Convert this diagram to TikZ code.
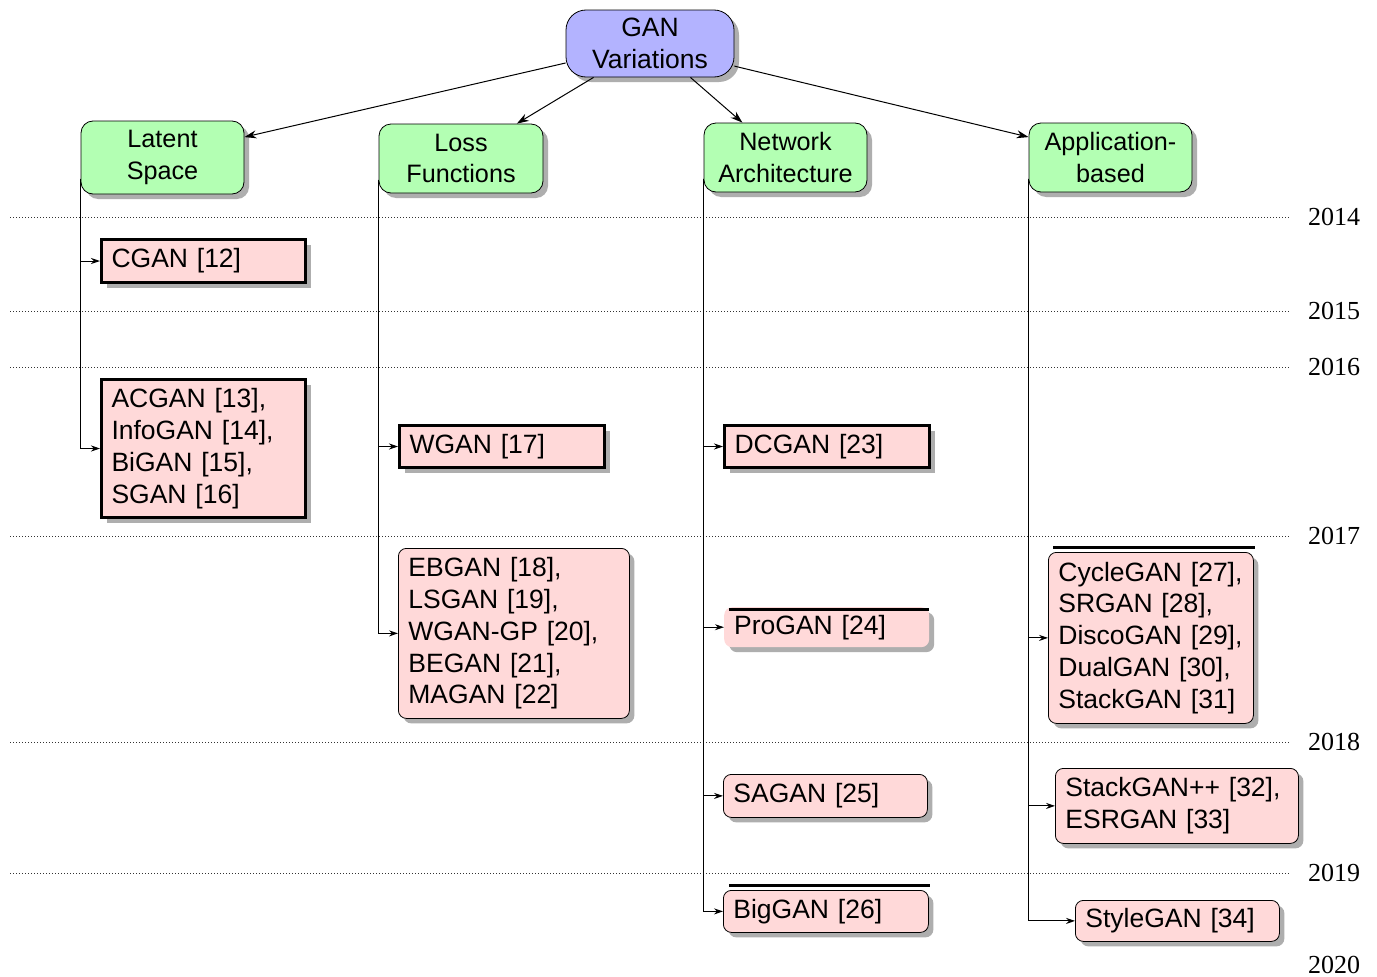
\documentclass[tikz,border=0pt]{standalone}
\usepackage{fontspec}
\setmainfont{Liberation Sans}
\newfontfamily\yearfont{Liberation Serif}
\usetikzlibrary{arrows.meta,shadows,calc}
\definecolor{ganblue}{RGB}{179,179,255}
\definecolor{catgreen}{RGB}{179,255,179}
\definecolor{leafpink}{RGB}{255,217,217}
\tikzset{
  base/.style={font=\fontsize{26.5}{31.8}\selectfont},
  shad/.style={drop shadow={shadow xshift=5pt,shadow yshift=-5pt,fill=black!35,opacity=0.9}},
  rootbox/.style={base,draw,line width=0.8pt,rounded corners=20pt,fill=ganblue,align=center,shad,inner sep=0pt},
  catbox/.style={font=\fontsize{25.2}{31.8}\selectfont,draw,line width=0.8pt,rounded corners=12pt,fill=catgreen,align=center,shad,inner sep=0pt},
  leaf/.style={base,anchor=north west,fill=leafpink,align=left,inner xsep=10pt,inner ysep=3pt,shad},
  boldleaf/.style={leaf,draw,line width=3pt},
  roundleaf/.style={leaf,draw,line width=0.8pt,rounded corners=8pt},
  plainleaf/.style={leaf,rounded corners=8pt},
  topconn/.style={line width=1pt,-{Stealth[length=12pt,width=8pt]}},
  treeconn/.style={line width=1pt,-{Stealth[length=9pt,width=6pt]}},
  yearline/.style={line width=0.8pt,black!80,dash pattern=on 1pt off 2pt},
  yearlabel/.style={font=\yearfont\fontsize{26}{30}\selectfont,inner sep=0pt},
  barline/.style={line width=3pt},
}
\begin{document}
\begin{tikzpicture}[x=1pt,y=-1pt]
\path[fill=white,use as bounding box] (0,0) rectangle (1377,977);

% year lines
\foreach \yy/\lab in {217/2014,311/2015,367/2016,536/2017,742/2018,873/2019}{
  \draw[yearline] (10,\yy) -- (1290,\yy);
  \node[yearlabel] (y\lab) at (1334,\yy) {\lab};
}
\node[yearlabel] (y2020) at (1334,965) {2020};

% root and categories
\node[rootbox,minimum width=168pt,minimum height=67pt] (gan) at (650,43.5) {GAN\\Variations};
\node[catbox,minimum width=163pt,minimum height=73pt] (lat) at (162.5,157.5) {Latent\\Space};
\node[catbox,minimum width=164pt,minimum height=69pt] (loss) at (461,158.5) {Loss\\Functions};
\node[catbox,minimum width=163pt,minimum height=69pt] (net) at (785.5,157.5) {Network\\Architecture};
\node[catbox,minimum width=163pt,minimum height=69pt] (app) at (1110.5,157.5) {Application-\\based};

\draw[topconn] (gan.193) -- (lat.14);
\draw[topconn] (gan.211) -- (loss.32);
\draw[topconn] (gan.320) -- (net.141);
\draw[topconn] (gan.345) -- (app.166);

% leaves
\node[boldleaf,text width=184pt,minimum height=43pt] (cgan) at (100,238) {CGAN [12]};
\node[boldleaf,text width=184pt,minimum height=138pt] (acgan) at (100,378) {ACGAN [13],\\InfoGAN [14],\\BiGAN [15],\\SGAN [16]};
\node[boldleaf,text width=185pt,minimum height=42pt] (wgan) at (398,424) {WGAN [17]};
\node[roundleaf,text width=211pt,minimum height=170pt] (ebgan) at (398,548) {EBGAN [18],\\LSGAN [19],\\WGAN-GP [20],\\BEGAN [21],\\MAGAN [22]};
\node[boldleaf,text width=185pt,minimum height=42pt] (dcgan) at (723,424) {DCGAN [23]};
\node[plainleaf,text width=185pt,minimum height=40pt] (progan) at (724,607) {ProGAN [24]};
\node[roundleaf,text width=184pt,minimum height=43pt] (sagan) at (723,774) {SAGAN [25]};
\node[roundleaf,text width=185pt,minimum height=42pt] (biggan) at (723,890) {BigGAN [26]};
\node[roundleaf,text width=185pt,minimum height=171pt] (cycle) at (1048,552) {CycleGAN [27],\\SRGAN [28],\\DiscoGAN [29],\\DualGAN [30],\\StackGAN [31]};
\node[roundleaf,text width=223pt,minimum height=75pt] (stackpp) at (1055,768) {StackGAN++ [32],\\ESRGAN [33]};
\node[roundleaf,text width=184pt,minimum height=41pt] (style) at (1075,900) {StyleGAN [34]};

% bars above some leaves
\draw[barline] ([xshift=5pt,yshift=-2pt]progan.north west) -- ([yshift=-2pt]progan.north east);
\draw[barline] ([xshift=6pt,yshift=5pt]biggan.north west) -- ([xshift=1pt,yshift=5pt]biggan.north east);
\draw[barline] ([xshift=5pt,yshift=5pt]cycle.north west) -- ([xshift=1pt,yshift=5pt]cycle.north east);

% tree connectors
\coordinate (latS) at ([yshift=-21pt]lat.west);
\coordinate (lossS) at ([yshift=-21pt]loss.west);
\coordinate (netS) at ([yshift=-21pt]net.west);
\coordinate (appS) at ([yshift=-21pt]app.west);
\draw[treeconn] (latS) |- (cgan.west);
\draw[treeconn] (latS) |- (acgan.west);
\draw[treeconn] (lossS) |- (wgan.west);
\draw[treeconn] (lossS) |- (ebgan.west);
\draw[treeconn] (netS) |- (dcgan.west);
\draw[treeconn] (netS) |- (progan.west);
\draw[treeconn] (netS) |- (sagan.west);
\draw[treeconn] (netS) |- (biggan.west);
\draw[treeconn] (appS) |- (cycle.west);
\draw[treeconn] (appS) |- (stackpp.west);
\draw[treeconn] (appS) |- (style.west);
\end{tikzpicture}
\end{document}
